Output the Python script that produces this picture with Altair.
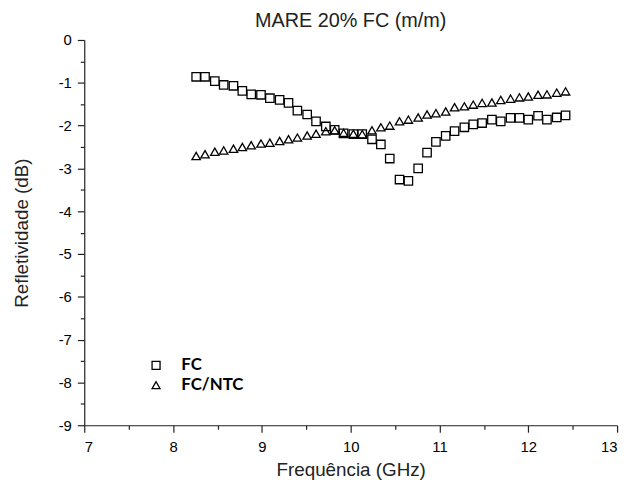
import altair as alt
import pandas as pd

freq = [8.26, 8.36, 8.47, 8.57, 8.68, 8.78, 8.88, 8.99, 9.09, 9.20, 9.30, 9.40, 9.51,
        9.61, 9.72, 9.82, 9.92, 10.03, 10.13, 10.24, 10.34, 10.44, 10.55, 10.65, 10.76,
        10.86, 10.96, 11.07, 11.17, 11.28, 11.38, 11.48, 11.59, 11.69, 11.80, 11.90,
        12.00, 12.11, 12.21, 12.32, 12.42]
fc = [-0.86, -0.86, -0.96, -1.05, -1.07, -1.19, -1.27, -1.28, -1.36, -1.40, -1.47, -1.65,
      -1.74, -1.90, -2.02, -2.10, -2.18, -2.20, -2.20, -2.32, -2.44, -2.77, -3.26, -3.29,
      -3.00, -2.63, -2.38, -2.24, -2.13, -2.04, -1.97, -1.94, -1.86, -1.90, -1.82, -1.82,
      -1.86, -1.77, -1.86, -1.81, -1.76]
fc_ntc = [-2.71, -2.67, -2.61, -2.58, -2.54, -2.50, -2.46, -2.42, -2.40, -2.36, -2.32,
          -2.28, -2.23, -2.19, -2.13, -2.11, -2.17, -2.19, -2.20, -2.11, -2.04, -2.00,
          -1.90, -1.86, -1.81, -1.74, -1.71, -1.67, -1.57, -1.55, -1.51, -1.47, -1.46,
          -1.40, -1.37, -1.34, -1.32, -1.28, -1.27, -1.23, -1.20]
series_names = ["FC", "FC/NTC"]
x_ticks = [7, 7.5, 8, 8.5, 9, 9.5, 10, 10.5, 11, 11.5, 12, 12.5, 13]
y_ticks = [0, -0.5, -1, -1.5, -2, -2.5, -3, -3.5, -4, -4.5, -5, -5.5, -6, -6.5, -7, -7.5,
           -8, -8.5, -9]

df = pd.DataFrame({
    "f": freq * 2,
    "r": fc + fc_ntc,
    "s": [series_names[0]] * len(freq) + [series_names[1]] * len(freq),
})

minor_test = "abs(datum.value - round(datum.value)) > 0.01"
label_expr = f"{minor_test} ? '' : toString(datum.value)"
tick_size = {"condition": {"test": minor_test, "value": 4}, "value": 7}

chart = alt.Chart(df).mark_point(filled=False, strokeWidth=1.3, opacity=1).encode(
    x=alt.X("f:Q", scale=alt.Scale(domain=[7, 13], nice=False, zero=False),
            axis=alt.Axis(values=x_ticks, title="Frequência (GHz)", grid=False,
                          labelExpr=label_expr, tickSize=tick_size,
                          labelPadding=8, titlePadding=6)),
    y=alt.Y("r:Q", scale=alt.Scale(domain=[-9, 0], nice=False, zero=False),
            axis=alt.Axis(values=y_ticks, title="Refletividade (dB)", grid=False,
                          labelExpr=label_expr, tickSize=tick_size,
                          labelPadding=6, titlePadding=27)),
    shape=alt.Shape("s:N", scale=alt.Scale(domain=series_names, range=["square", "triangle-up"]),
                    legend=alt.Legend(title=None, orient="none", legendX=64, legendY=320,
                                      labelFont="Lato", labelFontWeight="bold", labelFontSize=17,
                                      labelColor="black", symbolSize=65, symbolStrokeWidth=1.3,
                                      symbolStrokeColor="black", symbolFillColor="transparent",
                                      rowPadding=2, labelOffset=17, padding=0)),
    color=alt.value("black"),
    size=alt.value(72),
).properties(
    width=538, height=389,
    background="white",
    title=alt.TitleParams("MARE 20% FC (m/m)", fontSize=20, fontWeight="normal",
                          font="Liberation Sans", color="#222", offset=2, anchor="middle"),
    autosize=alt.AutoSizeParams(type="none"),
    padding={"left": 77, "top": 30, "right": 10, "bottom": 55},
).configure_view(stroke=None).configure_axis(
    labelFont="Liberation Sans", titleFont="Liberation Sans", labelFontSize=15,
    titleFontSize=19, titleFontWeight="normal", labelColor="black", titleColor="#222",
    domainColor="#222", tickColor="#222", domainWidth=1.2, tickWidth=1.2,
)

chart.save("out.html", embed_options={"renderer": "svg", "actions": False})
